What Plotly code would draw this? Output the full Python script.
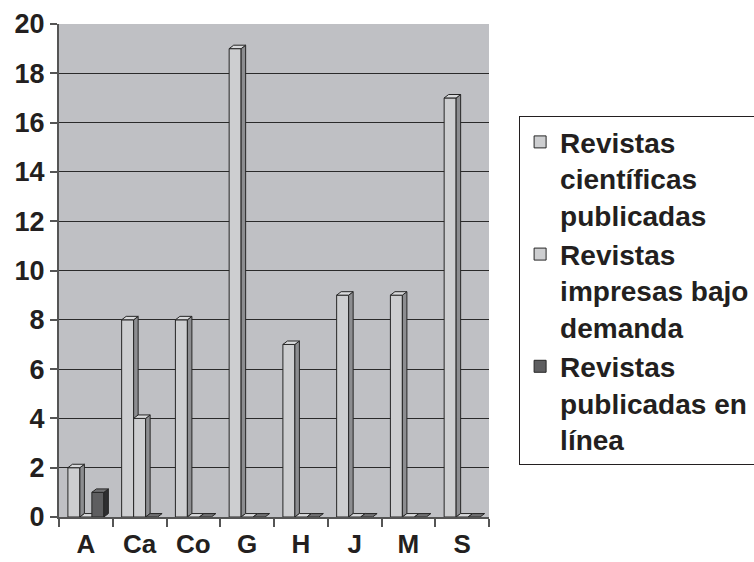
import plotly.graph_objects as go

categories = ["A", "Ca", "Co", "G", "H", "J", "M", "S"]
cientificas = [2, 8, 8, 19, 7, 9, 9, 17]
impresas = [0, 4, 0, 0, 0, 0, 0, 0]
en_linea = [1, 0, 0, 0, 0, 0, 0, 0]
series_names = [
    "Revistas<br>científicas<br>publicadas",
    "Revistas<br>impresas bajo<br>demanda",
    "Revistas<br>publicadas en<br>línea",
]
y_ticks = [0, 2, 4, 6, 8, 10, 12, 14, 16, 18, 20]

front_colors = ["#CDCED0", "#CDCED0", "#5E5E60"]
side_colors = ["#8C8D90", "#8C8D90", "#2E2E30"]
top_colors = ["#D9DADC", "#D9DADC", "#707072"]
EDGE = "#262626"
FONT = "Liberation Sans, Arial, sans-serif"

BAR_W = 0.223       # bar width in category units
DX = 0.084          # 3D depth (x, category units)
DY = 0.14           # 3D depth (y, value units)

fig = go.Figure()
all_series = [cientificas, impresas, en_linea]
n = len(all_series)
for j, (name, vals) in enumerate(zip(series_names, all_series)):
    off = (j - (n - 1) / 2) * BAR_W
    fx, fy, sx, sy, tx, ty = [], [], [], [], [], []
    for i, v in enumerate(vals):
        x0 = i + off - BAR_W / 2
        x1 = x0 + BAR_W
        if v > 0:
            fx += [x0, x1, x1, x0, x0, None]
            fy += [0, 0, v, v, 0, None]
            sx += [x1, x1 + DX, x1 + DX, x1, x1, None]
            sy += [0, DY, v + DY, v, 0, None]
        tx += [x0, x0 + DX, x1 + DX, x1, x0, None]
        ty += [v, v + DY, v + DY, v, v, None]
    for xs, ys, col in ((fx, fy, front_colors[j]), (sx, sy, side_colors[j]), (tx, ty, top_colors[j])):
        fig.add_trace(go.Scatter(
            x=xs, y=ys, mode="lines", fill="toself", fillcolor=col,
            line=dict(color=EDGE, width=1), showlegend=False, hoverinfo="skip",
        ))
    # legend entry
    fig.add_trace(go.Bar(
        x=[None], y=[None], name=name,
        marker=dict(color=front_colors[j], line=dict(color=EDGE, width=1)),
    ))

fig.update_layout(
    width=754, height=562,
    margin=dict(l=59, r=265, t=24, b=45, autoexpand=False),
    paper_bgcolor="white",
    plot_bgcolor="#BFC0C4",
    font=dict(family=FONT, size=27, color="#231F20"),
    showlegend=True,
    legend=dict(
        x=1.07, y=0.813, xanchor="left", yanchor="top",
        bgcolor="white", bordercolor="#231F20", borderwidth=1,
        font=dict(family=FONT, size=28, color="#231F20", weight="bold"),
        valign="top", tracegroupgap=0,
    ),
)
fig.update_yaxes(
    range=[0, 20], tickvals=y_ticks, automargin=False,
    showgrid=True, gridcolor="#2A2A2A", gridwidth=1,
    showline=True, linecolor="#555555", linewidth=2,
    ticks="outside", ticklen=7, tickcolor="#555555", tickwidth=1.5,
    tickfont=dict(family=FONT, size=27, color="#231F20", weight="bold"),
    zeroline=False, mirror=False,
)
fig.update_xaxes(
    range=[-0.5, len(categories) - 0.5], automargin=False,
    tickvals=list(range(len(categories))), ticktext=categories,
    showgrid=False, zeroline=False,
    showline=True, linecolor="#555555", linewidth=2,
    ticks="", ticklabelstandoff=3,
    minor=dict(
        tickvals=[i - 0.5 for i in range(len(categories) + 1)],
        ticks="outside", ticklen=8, tickcolor="#555555", tickwidth=1.5, showgrid=False,
    ),
    tickfont=dict(family=FONT, size=26, color="#231F20", weight="bold"),
)

fig.write_html("out.html")
